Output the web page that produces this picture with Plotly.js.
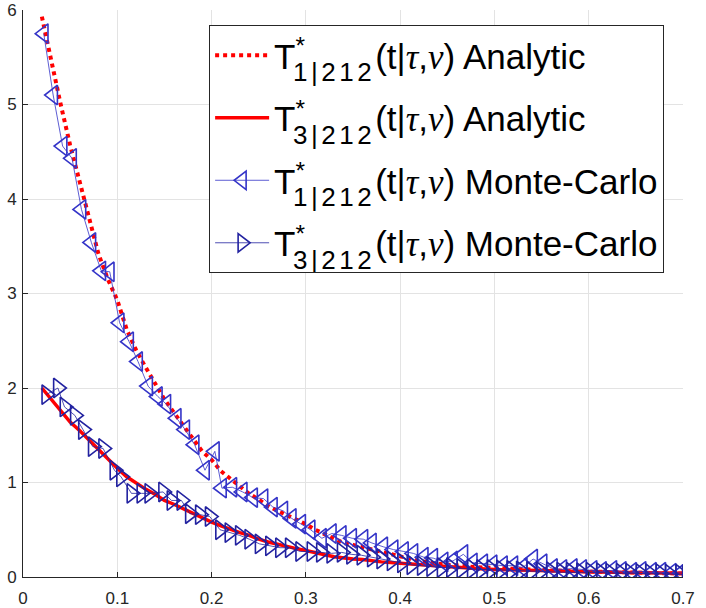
<!DOCTYPE html>
<html>
<head>
<meta charset="utf-8">
<script src="https://cdn.plot.ly/plotly-3.0.1.min.js"></script>
<style>html,body{margin:0;padding:0;background:#fff;}#chart{width:706px;height:608px;}</style>
</head>
<body>
<div id="chart"></div>
<script>
// Analytic curves
const xAnalytic = [0.02,0.03,0.04,0.05,0.06,0.07,0.08,0.09,0.10,0.11,0.12,0.13,0.14,0.15,0.16,0.17,0.18,0.19,0.20,0.21,0.22,0.23,0.24,0.25,0.26,0.27,0.28,0.29,0.30,0.31,0.32,0.33,0.34,0.35,0.36,0.38,0.40,0.42,0.44,0.46,0.48,0.50,0.53,0.56,0.60,0.64,0.67,0.70];
const t1Analytic = [5.93,5.45,5.0,4.57,4.18,3.83,3.42,3.15,2.93,2.62,2.40,2.22,2.04,1.88,1.74,1.60,1.47,1.33,1.24,1.12,1.04,0.96,0.88,0.82,0.75,0.70,0.655,0.61,0.56,0.50,0.45,0.40,0.36,0.34,0.315,0.265,0.215,0.17,0.14,0.12,0.105,0.095,0.08,0.07,0.058,0.048,0.042,0.036];
const t3Analytic = [2.0,1.88,1.76,1.64,1.55,1.45,1.34,1.24,1.15,1.06,0.99,0.93,0.875,0.81,0.77,0.72,0.67,0.62,0.58,0.54,0.50,0.47,0.44,0.40,0.37,0.345,0.32,0.30,0.28,0.255,0.235,0.215,0.20,0.19,0.185,0.16,0.145,0.13,0.115,0.10,0.09,0.08,0.07,0.062,0.055,0.048,0.043,0.04];

// Monte-Carlo samples
const xMC1 = [0.022,0.032,0.042,0.052,0.062,0.0725,0.083,0.092,0.1025,0.1125,0.122,0.1327,0.143,0.152,0.163,0.172,0.182,0.193,0.2035,0.211,0.222,0.233,0.244,0.255,0.265,0.276,0.285,0.295,0.305,0.317,0.3275,0.338,0.349,0.361,0.370,0.382,0.393,0.404,0.414,0.425,0.435,0.446,0.456,0.467,0.477,0.488,0.498,0.509,0.520,0.530,0.541,0.551,0.562,0.572,0.583,0.593,0.604,0.614,0.625,0.635,0.646,0.656,0.667,0.677,0.688,0.698];
const yMC1 = [5.75,5.10,4.56,4.43,3.89,3.54,3.24,3.23,2.69,2.49,2.28,2.02,1.91,1.83,1.68,1.56,1.40,1.13,1.33,0.94,0.95,0.90,0.84,0.83,0.74,0.70,0.62,0.56,0.50,0.41,0.46,0.44,0.41,0.40,0.36,0.32,0.29,0.27,0.25,0.21,0.20,0.16,0.17,0.24,0.15,0.14,0.13,0.12,0.12,0.10,0.19,0.14,0.09,0.08,0.09,0.08,0.07,0.06,0.07,0.06,0.05,0.06,0.05,0.05,0.04,0.045];
const xMC3 = [0.0247,0.037,0.044,0.055,0.0636,0.074,0.085,0.097,0.104,0.115,0.1256,0.134,0.1486,0.1575,0.168,0.177,0.1876,0.198,0.209,0.219,0.23,0.24,0.251,0.262,0.2726,0.283,0.294,0.306,0.316,0.327,0.338,0.348,0.359,0.37,0.38,0.391,0.402,0.412,0.423,0.433,0.444,0.454,0.465,0.476,0.486,0.497,0.507,0.518,0.528,0.539,0.549,0.560,0.571,0.581,0.592,0.602,0.613,0.623,0.634,0.644,0.655,0.665,0.676,0.686,0.697,0.704];
const yMC3 = [1.93,2.00,1.80,1.71,1.56,1.38,1.36,1.13,1.06,0.885,0.885,0.885,0.90,0.81,0.81,0.67,0.66,0.64,0.50,0.47,0.44,0.40,0.35,0.33,0.31,0.31,0.27,0.27,0.26,0.25,0.26,0.24,0.23,0.21,0.19,0.17,0.15,0.13,0.12,0.11,0.10,0.10,0.09,0.085,0.08,0.08,0.075,0.07,0.065,0.06,0.06,0.055,0.05,0.05,0.045,0.05,0.045,0.04,0.04,0.04,0.035,0.035,0.035,0.03,0.03,0.025];

const serif = 'font-family:\'Liberation Serif\'';
const tauNu = '(t|<span style="' + serif + '"><i>τ</i></span>,<span style="' + serif + '"><i>ν</i></span>)';
function label(idx, kind) {
  return 'T<sup><span style="letter-spacing:-12px">*</span></sup>' +
         '<sub><span style="font-size:26px;letter-spacing:3.5px;baseline-shift:-5px">' + idx + '|212</span></sub>' +
         tauNu + ' ' + kind;
}
const names = [label(1, 'Analytic'), label(3, 'Analytic'), label(1, 'Monte-Carlo'), label(3, 'Monte-Carlo')];

const traces = [
  {x: xAnalytic, y: t1Analytic, mode: 'lines', name: names[0], legendgroup: 'a',
   line: {color: '#ff0000', width: 4, dash: 'dot'}},
  {x: xAnalytic, y: t3Analytic, mode: 'lines', name: names[1], legendgroup: 'b',
   line: {color: '#ff0000', width: 3.5}},
  {x: xMC1, y: yMC1, mode: 'lines+markers', name: names[2], legendgroup: 'c',
   line: {color: '#3434c8', width: 0.8},
   marker: {symbol: 'triangle-left-open', size: 17, color: '#3434c8', line: {width: 1.6, color: '#3434c8'}}},
  {x: xMC3, y: yMC3, mode: 'lines+markers', name: names[3], legendgroup: 'd',
   line: {color: '#2222a0', width: 0.8},
   marker: {symbol: 'triangle-right-open', size: 17, color: '#2222a0', line: {width: 1.6, color: '#2222a0'}}}
];

const layout = {
  width: 706, height: 608,
  margin: {l: 23, r: 23, t: 10, b: 31, pad: 0},
  paper_bgcolor: '#fff', plot_bgcolor: '#fff',
  font: {family: 'Liberation Sans, Arial, sans-serif', size: 17, color: '#262626'},
  xaxis: {range: [0, 0.7], dtick: 0.1, tick0: 0, showgrid: true, gridcolor: '#e3e3e3',
    zeroline: false, showline: true, linecolor: '#262626', linewidth: 1,
    ticks: 'inside', ticklen: 5, tickcolor: '#262626', automargin: false,
    ticklabelstandoff: 6,
    tickfont: {size: 17, color: '#262626'}},
  yaxis: {range: [0, 6], dtick: 1, tick0: 0, showgrid: true, gridcolor: '#e3e3e3',
    zeroline: false, showline: true, linecolor: '#262626', linewidth: 1,
    ticks: 'inside', ticklen: 5, tickcolor: '#262626', automargin: false,
    ticklabelstandoff: 2,
    tickfont: {size: 17, color: '#262626'}},
  showlegend: true,
  legend: {x: 0.282, y: 0.9735, xanchor: 'left', yanchor: 'top',
    bgcolor: '#ffffff', bordercolor: '#262626', borderwidth: 1,
    font: {family: 'Liberation Sans, Arial, sans-serif', size: 35, color: '#000'},
    traceorder: 'grouped', tracegroupgap: 14, itemwidth: 54}
};

Plotly.newPlot('chart', traces, layout, {displayModeBar: false, staticPlot: true});
</script>
</body>
</html>
